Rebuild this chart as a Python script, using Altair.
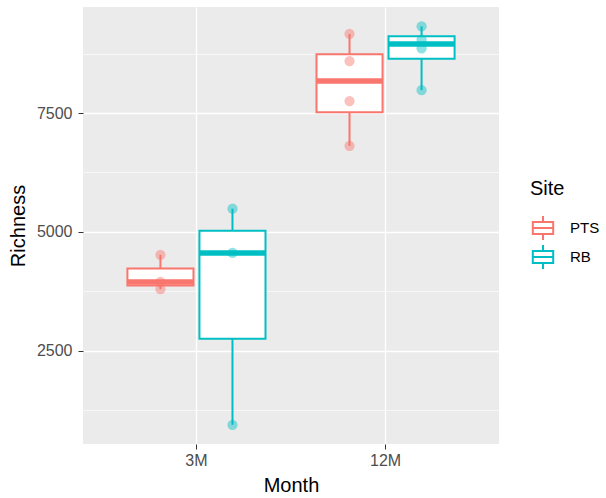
import altair as alt
import pandas as pd

months = ["3M", "3M", "3M", "3M", "3M", "3M",
          "12M", "12M", "12M", "12M", "12M", "12M", "12M", "12M"]
sites = ["PTS", "PTS", "PTS", "RB", "RB", "RB",
         "PTS", "PTS", "PTS", "PTS", "RB", "RB", "RB", "RB"]
richness = [3800, 3950, 4520, 950, 4560, 5490,
            6810, 7750, 8590, 9160, 7980, 8860, 9040, 9320]

month_order = ["3M", "12M"]
site_order = ["PTS", "RB"]
site_colors = ["#F8766D", "#00BFC4"]
y_ticks = [1250, 2500, 3750, 5000, 6250, 7500, 8750]

df = pd.DataFrame({"Month": months, "Site": sites, "Richness": richness})

FONT = "Liberation Sans"

xscale = alt.Scale(domain=month_order, paddingInner=0, paddingOuter=0.1)
xoff_scale = alt.Scale(domain=site_order, paddingInner=0.083, paddingOuter=0.354)
yscale = alt.Scale(domain=[546, 9727], nice=False, zero=False)
cscale = alt.Scale(domain=site_order, range=site_colors)

x_enc = alt.X("Month:N", scale=xscale, title="Month",
              axis=alt.Axis(labelAngle=0, grid=True, gridColor="white", gridWidth=1.3,
                            domain=False, tickColor="#333333", tickSize=5,
                            labelColor="#4D4D4D", labelFontSize=16, labelPadding=3,
                            titleFontSize=20, titleColor="black", titleFontWeight="normal",
                            titlePadding=7, labelFont=FONT, titleFont=FONT))
xo_enc = alt.XOffset("Site:N", scale=xoff_scale)

legend = alt.Legend(
    title="Site", orient="none", legendX=447, legendY=172,
    symbolType="M-0.85,-0.5H0.85V0.5H-0.85Z M-0.85,0H0.85 M0,-0.5V-1 M0,0.5V1",
    symbolSize=576, symbolStrokeWidth=2, symbolFillColor="white", symbolOpacity=1,
    labelFontSize=15, titleFontSize=20, titleFontWeight="normal", labelFont=FONT, titleFont=FONT,
    labelOffset=14, rowPadding=-3, titlePadding=16, labelColor="black", titleColor="black",
)
s_leg = alt.Stroke("SiteKey:N", scale=alt.Scale(range=site_colors), title="Site", legend=legend)
c_enc = alt.Color("Site:N", scale=cscale, legend=None)

base = alt.Chart(df)
agg = base.transform_aggregate(
    q1="q1(Richness)", q3="q3(Richness)", med="median(Richness)",
    lo="min(Richness)", hi="max(Richness)", groupby=["Month", "Site"]
)

y_axis = alt.Axis(values=y_ticks, grid=True, gridColor="white",
                  gridWidth={"condition": {"test": "datum.value % 2500 == 0", "value": 1.3}, "value": 0.6},
                  tickColor={"condition": {"test": "datum.value % 2500 == 0", "value": "#333333"}, "value": "transparent"},
                  labelExpr="datum.value % 2500 == 0 ? datum.value : ''",
                  domain=False, tickSize=5, labelColor="#4D4D4D", labelFontSize=16,
                  labelPadding=6, titleFontSize=20, titleColor="black", titleFontWeight="normal",
                  titlePadding=8, labelFont=FONT, titleFont=FONT)

whisk = agg.mark_rule(strokeWidth=2).encode(
    x=x_enc, xOffset=xo_enc,
    y=alt.Y("lo:Q", scale=yscale, title="Richness", axis=y_axis),
    y2="hi:Q",
    color=c_enc,
)
box_fill = agg.mark_bar(fill="white", stroke=None).encode(
    x=x_enc, xOffset=xo_enc, y=alt.Y("q1:Q", scale=yscale), y2="q3:Q",
)
box_line = agg.transform_calculate(SiteKey="datum.Site").mark_bar(
    filled=False, strokeWidth=2).encode(
    x=x_enc, xOffset=xo_enc, y=alt.Y("q1:Q", scale=yscale), y2="q3:Q",
    stroke=s_leg,
)
median = agg.mark_tick(thickness=5.5, size=66, opacity=1).encode(
    x=x_enc, xOffset=xo_enc, y=alt.Y("med:Q", scale=yscale),
    color=c_enc,
)
pts = base.mark_circle(size=105, opacity=0.45).encode(
    x=x_enc, xOffset=xo_enc, y=alt.Y("Richness:Q", scale=yscale),
    color=c_enc,
)

chart = alt.layer(whisk, box_fill, box_line, median, pts).properties(
    width=416, height=437,
    autosize=alt.AutoSizeParams(type="none"),
    padding={"left": 83, "top": 7, "right": 107, "bottom": 54},
    background="white",
).configure_view(fill="#EBEBEB", stroke=None)

chart.save("out.html", embed_options={"renderer": "svg", "actions": False})
